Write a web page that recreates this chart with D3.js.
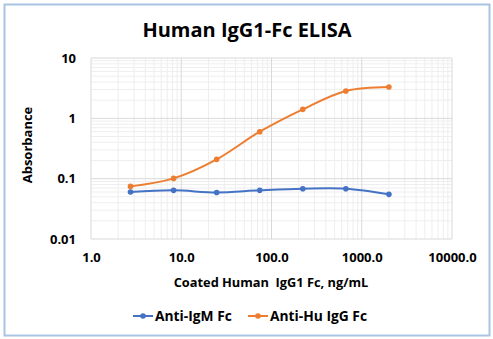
<!DOCTYPE html>
<html><head><meta charset="utf-8">
<script src="https://cdn.jsdelivr.net/npm/d3@7"></script>
<style>body{margin:0;background:#fff}svg{display:block}text{font-family:"Open Sans",sans-serif;font-weight:bold;fill:#000}</style>
</head><body><div id="c"></div>
<script>
const concentrations = [2.74, 8.23, 24.7, 74.1, 222.2, 666.7, 2000];
const antiIgM = [0.060, 0.064, 0.059, 0.064, 0.068, 0.068, 0.055];
const antiHuIgG = [0.0745, 0.101, 0.209, 0.60, 1.41, 2.84, 3.30];
const xTicks = [1, 10, 100, 1000, 10000];
const yTicks = [0.01, 0.1, 1, 10];
const seriesNames = ["Anti-IgM Fc", "Anti-Hu IgG Fc"];
const colors = ["#4472C4", "#ED7D31"];

const W = 493, H = 339;
const svg = d3.select("#c").append("svg").attr("width", W).attr("height", H);
svg.append("rect").attr("x", 4.5).attr("y", 4.5).attr("width", 485).attr("height", 331)
  .attr("fill", "#fff").attr("stroke", "#a9c4e3").attr("stroke-width", 2);

const x = d3.scaleLog().domain([1, 10000]).range([91, 452]);
const y = d3.scaleLog().domain([0.01, 10]).range([239, 58]);

const minorX = [], minorY = [];
for (let d = 1; d < 10000; d *= 10) for (let k = 2; k <= 9; k++) minorX.push(d * k);
for (let d = 0.01; d < 10; d *= 10) for (let k = 2; k <= 9; k++) minorY.push(d * k);
const g = svg.append("g");
g.selectAll(".mx").data(minorX).join("line").attr("x1", d => x(d)).attr("x2", d => x(d))
  .attr("y1", 58).attr("y2", 239).attr("stroke", "#eeeeee").attr("stroke-width", 1);
g.selectAll(".my").data(minorY).join("line").attr("y1", d => y(d)).attr("y2", d => y(d))
  .attr("x1", 91).attr("x2", 452).attr("stroke", "#eeeeee").attr("stroke-width", 1);
g.selectAll(".Mx").data(xTicks).join("line").attr("x1", d => x(d)).attr("x2", d => x(d))
  .attr("y1", 58).attr("y2", 239).attr("stroke", "#d9d9d9").attr("stroke-width", 1);
g.selectAll(".My").data(yTicks).join("line").attr("y1", d => y(d)).attr("y2", d => y(d))
  .attr("x1", 91).attr("x2", 452).attr("stroke", "#d9d9d9").attr("stroke-width", 1);

const xAxis = svg.append("g").attr("transform", "translate(0,239)")
  .call(d3.axisBottom(x).tickValues(xTicks).tickFormat(d3.format(".1f")).tickSize(0).tickPadding(14));
xAxis.select(".domain").remove();
xAxis.selectAll("text").attr("font-size", 13).attr("font-family", "Open Sans").attr("font-weight", "bold").attr("fill", "#000");
const yAxis = svg.append("g").attr("transform", "translate(91,0)")
  .call(d3.axisLeft(y).tickValues(yTicks).tickFormat(d => String(d)).tickSize(0).tickPadding(15));
yAxis.select(".domain").remove();
yAxis.selectAll("text").attr("font-size", 13).attr("font-family", "Open Sans").attr("font-weight", "bold").attr("fill", "#000");

svg.append("text").attr("x", 247).attr("y", 37).attr("text-anchor", "middle").attr("font-size", 20).text("Human IgG1-Fc ELISA");
svg.append("text").attr("x", 271).attr("y", 287).attr("text-anchor", "middle").attr("font-size", 12.8).attr("xml:space","preserve").text("Coated Human  IgG1 Fc, ng/mL");
svg.append("text").attr("transform", "translate(32,145) rotate(-90)").attr("text-anchor", "middle").attr("font-size", 13).text("Absorbance");

const line = d3.line().x(d => x(d[0])).y(d => y(d[1])).curve(d3.curveCatmullRom.alpha(0.5));
[antiIgM, antiHuIgG].forEach((vals, i) => {
  const pts = concentrations.map((c, j) => [c, vals[j]]);
  svg.append("path").datum(pts).attr("d", line).attr("fill", "none").attr("stroke", colors[i]).attr("stroke-width", 2);
  svg.append("g").selectAll("circle").data(pts).join("circle")
    .attr("cx", d => x(d[0])).attr("cy", d => y(d[1])).attr("r", 2.8).attr("fill", colors[i]);
});

const legX = [133, 248];
seriesNames.forEach((n, i) => {
  const lg = svg.append("g").attr("transform", `translate(${legX[i]},316)`);
  lg.append("line").attr("x1", 0).attr("x2", 20).attr("stroke", colors[i]).attr("stroke-width", 2);
  lg.append("circle").attr("cx", 10).attr("r", 2.8).attr("fill", colors[i]);
  lg.append("text").attr("x", 22).attr("y", 5).attr("font-size", 13.8).text(n);
});
</script></body></html>
